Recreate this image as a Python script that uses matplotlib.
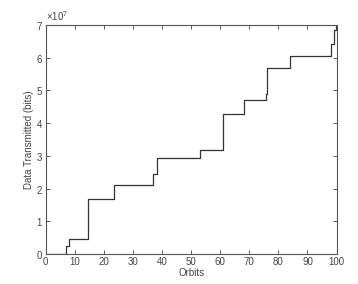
import matplotlib
matplotlib.use("Agg")
import matplotlib.pyplot as plt
from matplotlib.ticker import ScalarFormatter

plt.rcParams['font.family'] = ['Liberation Sans', 'DejaVu Sans']
plt.rcParams['mathtext.fontset'] = 'custom'
plt.rcParams['mathtext.rm'] = 'Liberation Sans'
plt.rcParams['mathtext.it'] = 'Liberation Sans'

orbits = [0, 7.0, 7.9, 14.7, 23.4, 37.0, 38.2, 53.0, 60.8, 68.1, 75.7, 76.0, 84.1, 98.2, 99.2, 99.9, 100]
data_bits = [0, 0.24e7, 0.46e7, 1.70e7, 2.11e7, 2.44e7, 2.94e7, 3.18e7, 4.27e7, 4.70e7,
             4.89e7, 5.69e7, 6.04e7, 6.40e7, 6.84e7, 7.0e7, 7.0e7]
x_ticks = list(range(0, 101, 10))
y_ticks = [i * 1e7 for i in range(8)]

fig = plt.figure(figsize=(3.58, 2.84), dpi=100)
ax = fig.add_axes([0.1277, 0.1046, 0.8123, 0.8084])
ax.step(orbits, data_bits, where='post', color='#333333', lw=0.9)
ax.set_xlim(0, 100)
ax.set_ylim(0, 7e7)
ax.set_xticks(x_ticks)
ax.set_yticks(y_ticks)
fmt = ScalarFormatter(useMathText=True)
fmt.set_powerlimits((0, 0))
ax.yaxis.set_major_formatter(fmt)
ax.yaxis.get_offset_text().set_fontsize(7)
ax.yaxis.get_offset_text().set_color('#444444')
ax.tick_params(direction='in', length=3, width=0.6, top=True, right=True,
               labelsize=7, colors='#444444', pad=2)
for s in ax.spines.values():
    s.set_color('#555555')
    s.set_linewidth(0.8)
ax.set_xlabel('Orbits', fontsize=7, color='#444444', labelpad=1)
ax.set_ylabel('Data Transmitted (bits)', fontsize=7, color='#444444', labelpad=1)
fig.savefig('out.png', dpi=100)
